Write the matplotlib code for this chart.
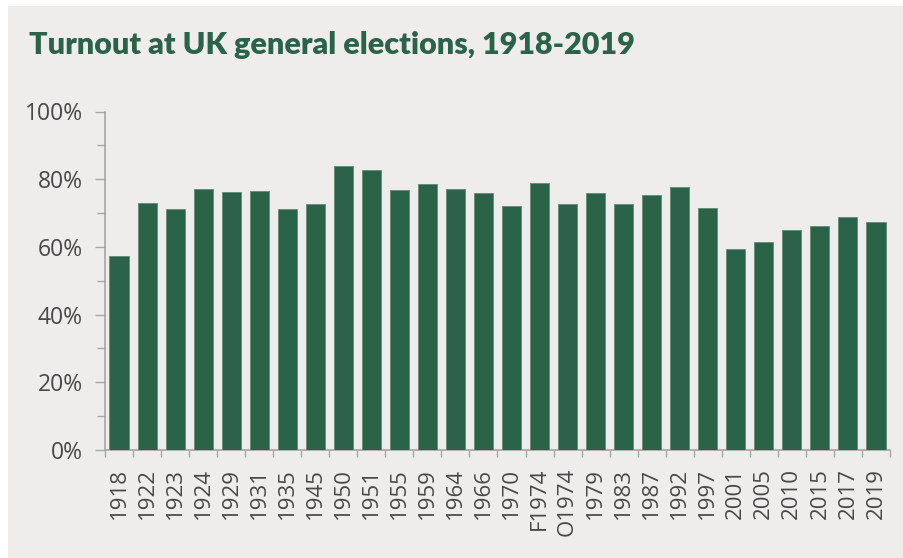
import matplotlib
matplotlib.use("Agg")
import matplotlib.pyplot as plt
from matplotlib.ticker import MultipleLocator, FuncFormatter
from matplotlib.patches import Rectangle

years = ["1918", "1922", "1923", "1924", "1929", "1931", "1935", "1945", "1950", "1951",
         "1955", "1959", "1964", "1966", "1970", "F1974", "O1974", "1979", "1983", "1987",
         "1992", "1997", "2001", "2005", "2010", "2015", "2017", "2019"]
turnout = [57.2, 73.0, 71.1, 77.0, 76.3, 76.4, 71.1, 72.8, 83.9, 82.6,
           76.8, 78.7, 77.1, 75.8, 72.0, 78.8, 72.8, 76.0, 72.7, 75.3,
           77.7, 71.4, 59.4, 61.4, 65.1, 66.2, 68.8, 67.3]
title = "Turnout at UK general elections, 1918-2019"

BG = "#efedeb"
GREEN = "#2a6349"
GREY_TXT = "#484848"
AXIS = "#a6a6a6"

fig = plt.figure(figsize=(9.04, 5.58), dpi=100)
fig.patch.set_facecolor("white")
fig.add_artist(Rectangle((8 / 904, 0), 1, 1 - 6 / 558, transform=fig.transFigure,
                         facecolor=BG, edgecolor="none", zorder=-10))

ax = fig.add_axes([105 / 904, 1 - 450 / 558, (890 - 105) / 904, (450 - 111.5) / 558])
ax.set_facecolor("none")

x = range(len(years))
ax.bar(x, turnout, width=0.68, color=GREEN, edgecolor="#5f8c77", linewidth=0.6, zorder=3)

ax.set_xlim(-0.5, len(years) - 0.5)
ax.set_ylim(0, 100)

ax.yaxis.set_major_locator(MultipleLocator(20))
ax.yaxis.set_minor_locator(MultipleLocator(10))
ax.yaxis.set_major_formatter(FuncFormatter(lambda v, p: f"{int(v)}%"))

ax.set_xticks(list(x))
ax.set_xticklabels(years, rotation=90, fontfamily="Open Sans", fontsize=16, color=GREY_TXT)
ax.set_xticks([i - 0.5 for i in range(len(years) + 1)], minor=True)
ax.tick_params(axis="x", which="major", length=0, pad=13)
ax.tick_params(axis="x", which="minor", length=5, width=1, color=AXIS, direction="out")
ax.tick_params(axis="y", which="major", length=7, width=1, color=AXIS, pad=9,
               labelsize=16.5, labelcolor=GREY_TXT)
ax.tick_params(axis="y", which="minor", length=6, width=1, color=AXIS)
for lbl in ax.get_yticklabels():
    lbl.set_fontfamily("Open Sans")

for s in ["top", "right"]:
    ax.spines[s].set_visible(False)
for s in ["left", "bottom"]:
    ax.spines[s].set_color(AXIS)
    ax.spines[s].set_linewidth(1.2)

fig.text(29 / 904, 1 - 54 / 558, title, fontfamily="Lato", fontweight="heavy",
         fontsize=22, color=GREEN, ha="left", va="baseline")

fig.savefig("out.png", dpi=100, facecolor=fig.get_facecolor())
